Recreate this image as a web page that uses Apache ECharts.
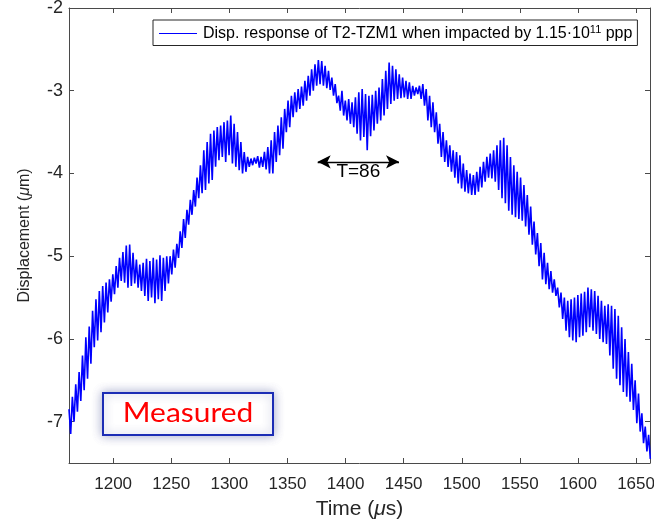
<!DOCTYPE html>
<html>
<head>
<meta charset="utf-8">
<script src="https://cdn.jsdelivr.net/npm/echarts@6/dist/echarts.min.js"></script>
<style>
  html, body { margin: 0; padding: 0; background: #fff; }
  #chart { width: 654px; height: 519px; }
</style>
</head>
<body>
<div id="chart"></div>
<script>
// Sampled displacement of T2-TZM1: one peak and one trough per cycle of the fast oscillation
const T_START = 1162;   // µs, time of the first peak
const CYCLE = 2.9;      // µs, period of the fast oscillation

const peaks = [
  -6.85, -6.70, -6.55, -6.40, -6.20, -5.98, -5.85, -5.66, -5.52, -5.42,
  -5.36, -5.32, -5.28, -5.22, -5.12, -5.02, -4.95, -4.87, -4.86, -4.96,
  -5.04, -5.10, -5.08, -5.03, -5.06, -5.02, -5.04, -4.99, -5.02, -5.00,
  -5.00, -4.92, -4.85, -4.70, -4.55, -4.44, -4.32, -4.20, -4.05, -3.90,
  -3.72, -3.62, -3.52, -3.48, -3.44, -3.42, -3.38, -3.36, -3.30, -3.40,
  -3.50, -3.62, -3.74, -3.80, -3.82, -3.81, -3.79, -3.80, -3.74, -3.68,
  -3.60, -3.50, -3.42, -3.32, -3.22, -3.12, -3.06, -3.02, -2.98, -2.95,
  -2.88, -2.82, -2.74, -2.68, -2.63, -2.64, -2.70, -2.76, -2.84, -2.92,
  -3.06, -3.00, -3.12, -3.10, -3.14, -3.08, -3.02, -2.98, -3.04, -3.06,
  -3.05, -3.00, -2.96, -2.86, -2.76, -2.66, -2.70, -2.74, -2.80, -2.84,
  -2.88, -2.90, -2.94, -2.96, -2.94, -2.92, -2.98, -3.06, -3.14, -3.26,
  -3.40, -3.50, -3.60, -3.66, -3.72, -3.74, -3.78, -3.88, -3.96, -4.00,
  -4.02, -3.98, -3.92, -3.86, -3.80, -3.76, -3.72, -3.66, -3.60, -3.57,
  -3.66, -3.80, -3.90, -3.98, -4.05, -4.14, -4.26, -4.40, -4.58, -4.72,
  -4.84, -4.96, -5.08, -5.18, -5.28, -5.38, -5.44, -5.50, -5.54, -5.52,
  -5.50, -5.47, -5.45, -5.43, -5.38, -5.40, -5.42, -5.48, -5.54, -5.60,
  -5.58, -5.60, -5.64, -5.72, -5.86, -6.00, -6.16, -6.30, -6.50, -6.66,
  -6.90, -7.06, -7.16
];

const troughs = [
  -7.15, -7.00, -6.88, -6.75, -6.62, -6.48, -6.30, -6.10, -6.02, -5.92,
  -5.80, -5.68, -5.55, -5.46, -5.38, -5.30, -5.32, -5.38, -5.36, -5.33,
  -5.38, -5.42, -5.48, -5.54, -5.50, -5.57, -5.52, -5.54, -5.42, -5.33,
  -5.22, -5.14, -5.02, -4.90, -4.78, -4.62, -4.50, -4.40, -4.30, -4.24,
  -4.20, -4.12, -4.08, -3.92, -3.84, -3.80, -3.86, -3.78, -3.88, -3.92,
  -3.96, -4.00, -3.98, -3.92, -3.90, -3.88, -3.93, -3.92, -3.95, -4.00,
  -4.00, -3.86, -3.78, -3.70, -3.50, -3.44, -3.32, -3.26, -3.22, -3.18,
  -3.12, -3.06, -3.00, -2.94, -2.92, -2.94, -2.97, -2.99, -3.06, -3.15,
  -3.24, -3.30, -3.36, -3.40, -3.44, -3.52, -3.60, -3.56, -3.72, -3.55,
  -3.48, -3.40, -3.36, -3.30, -3.22, -3.16, -3.12, -3.10, -3.09, -3.08,
  -3.10, -3.10, -3.06, -3.04, -3.10, -3.18, -3.36, -3.44, -3.50, -3.64,
  -3.80, -3.86, -3.92, -3.98, -4.05, -4.12, -4.18, -4.22, -4.24, -4.26,
  -4.26, -4.22, -4.17, -4.10, -4.05, -4.06, -4.10, -4.20, -4.30, -4.36,
  -4.45, -4.50, -4.53, -4.55, -4.57, -4.64, -4.74, -4.86, -4.98, -5.12,
  -5.28, -5.34, -5.40, -5.44, -5.48, -5.62, -5.76, -5.90, -5.98, -6.02,
  -6.04, -5.98, -5.96, -5.92, -5.86, -5.90, -5.94, -6.00, -6.04, -6.06,
  -6.20, -6.36, -6.48, -6.56, -6.64, -6.70, -6.76, -6.86, -7.02, -7.12,
  -7.26, -7.36, -7.45
];

const xTicks = [1200, 1250, 1300, 1350, 1400, 1450, 1500, 1550, 1600, 1650];
const yTicks = [-7, -6, -5, -4, -3, -2];
const xRange = [1162, 1662];
const yRange = [-7.5, -2];

// Period marker of the slow beat
const beatFrom = 1376;
const beatTo = 1446;
const beatLevel = -3.86;
const beatLabel = 'T=86';

const seriesName = 'Disp. response of T2-TZM1 when impacted by 1.15·10^11 ppp';

const points = [];
for (let i = 0; i < peaks.length; i++) {
  points.push([T_START + i * CYCLE, peaks[i]]);
  points.push([T_START + (i + 0.5) * CYCLE, troughs[i]]);
}

const FONT = '"Liberation Sans", Arial, sans-serif';
const AXIS_COLOR = '#4a4a4a';
const TEXT_COLOR = '#262626';
const LINE_BLUE = '#0000ff';

const axisLineStyle = { color: AXIS_COLOR, width: 1 };
const plainNumber = (v) => String(v);

const chart = echarts.init(document.getElementById('chart'), null, { renderer: 'canvas' });

chart.setOption({
  animation: false,
  backgroundColor: '#ffffff',
  grid: { left: 69, top: 8, right: 4, bottom: 56, containLabel: false, outerBoundsMode: 'none' },
  legend: {
    show: true,
    left: 153,
    top: 20,
    orient: 'horizontal',
    backgroundColor: '#ffffff',
    borderColor: '#262626',
    borderWidth: 1,
    borderRadius: 0,
    padding: [4, 5, 4, 5],
    itemWidth: 38,
    itemHeight: 12,
    itemGap: 5,
    // the key sample is drawn as a plain blue stroke in the graphic layer below
    itemStyle: { opacity: 0 },
    lineStyle: { opacity: 0 },
    formatter: () => '{t|Disp. response of T2-TZM1 when impacted by 1.15·10}{s|11}{t| ppp}',
    textStyle: {
      color: '#000',
      fontFamily: FONT,
      fontSize: 16,
      padding: [0, 0, 0, 1],
      rich: {
        t: { fontFamily: FONT, fontSize: 16, color: '#000', lineHeight: 19 },
        s: { fontFamily: FONT, fontSize: 11, color: '#000', lineHeight: 19, verticalAlign: 'top' }
      }
    },
    data: [seriesName]
  },
  xAxis: [
    {
      type: 'value', position: 'bottom', min: xRange[0], max: xRange[1],
      axisLine: { show: true, onZero: false, lineStyle: axisLineStyle },
      axisTick: { show: true, inside: true, length: 5, customValues: xTicks, lineStyle: axisLineStyle },
      axisLabel: { show: true, customValues: xTicks, formatter: plainNumber, color: TEXT_COLOR, fontFamily: FONT, fontSize: 17, margin: 13 },
      splitLine: { show: false },
      name: '{n|Time (}{i|μ}{n|s)}',
      nameLocation: 'middle',
      nameGap: 36,
      nameTextStyle: {
        rich: {
          n: { fontFamily: FONT, fontSize: 21, color: TEXT_COLOR },
          i: { fontFamily: FONT, fontSize: 21, color: TEXT_COLOR, fontStyle: 'italic' }
        }
      }
    },
    {
      type: 'value', position: 'top', min: xRange[0], max: xRange[1],
      axisLine: { show: true, onZero: false, lineStyle: axisLineStyle },
      axisTick: { show: true, inside: true, length: 5, customValues: xTicks, lineStyle: axisLineStyle },
      axisLabel: { show: false },
      splitLine: { show: false }
    }
  ],
  yAxis: [
    {
      type: 'value', position: 'left', min: yRange[0], max: yRange[1],
      axisLine: { show: true, onZero: false, lineStyle: axisLineStyle },
      axisTick: { show: true, inside: true, length: 5, customValues: yTicks, lineStyle: axisLineStyle },
      axisLabel: { show: true, customValues: yTicks, formatter: plainNumber, color: TEXT_COLOR, fontFamily: FONT, fontSize: 18, margin: 6 },
      splitLine: { show: false },
      name: '{n|Displacement (}{i|μ}{n|m)}',
      nameLocation: 'middle',
      nameGap: 36,
      nameTextStyle: {
        rich: {
          n: { fontFamily: FONT, fontSize: 16, color: TEXT_COLOR },
          i: { fontFamily: FONT, fontSize: 16, color: TEXT_COLOR, fontStyle: 'italic' }
        }
      }
    },
    {
      type: 'value', position: 'right', min: yRange[0], max: yRange[1],
      axisLine: { show: true, onZero: false, lineStyle: axisLineStyle },
      axisTick: { show: true, inside: true, length: 5, customValues: yTicks, lineStyle: axisLineStyle },
      axisLabel: { show: false },
      splitLine: { show: false }
    }
  ],
  series: [
    {
      name: seriesName,
      type: 'line',
      xAxisIndex: 0,
      yAxisIndex: 0,
      data: points,
      symbol: 'none',
      showSymbol: false,
      sampling: null,
      clip: true,
      color: LINE_BLUE,
      lineStyle: { color: LINE_BLUE, width: 1.6 },
      itemStyle: { color: LINE_BLUE },
      z: 2,
      markLine: {
        silent: true,
        animation: false,
        symbol: ['arrow', 'arrow'],
        symbolSize: [10, 13],
        lineStyle: { color: '#000', width: 1.3, type: 'solid' },
        label: {
          show: true,
          position: 'insideMiddleBottom',
          distance: 0,
          formatter: beatLabel,
          color: '#000',
          fontFamily: FONT,
          fontSize: 19
        },
        data: [[{ coord: [beatFrom, beatLevel] }, { coord: [beatTo, beatLevel] }]]
      }
    }
  ],
  graphic: [
    {
      // legend key stroke
      type: 'line',
      z: 200,
      silent: true,
      shape: { x1: 159, y1: 33.5, x2: 197, y2: 33.5 },
      style: { stroke: LINE_BLUE, lineWidth: 1.2 }
    },
    {
      type: 'rect',
      z: 100,
      shape: { x: 103, y: 393, width: 170, height: 42 },
      style: {
        fill: '#ffffff',
        stroke: '#1c2db5',
        lineWidth: 2,
        shadowBlur: 10,
        shadowColor: 'rgba(70, 80, 150, 0.45)'
      }
    },
    {
      type: 'text',
      z: 101,
      x: 188,
      y: 414,
      scaleX: 1.15,
      style: {
        text: 'Measured',
        fill: '#ff0000',
        font: '26px Lato, "Open Sans", sans-serif',
        align: 'center',
        verticalAlign: 'middle'
      }
    }
  ]
});
</script>
</body>
</html>
